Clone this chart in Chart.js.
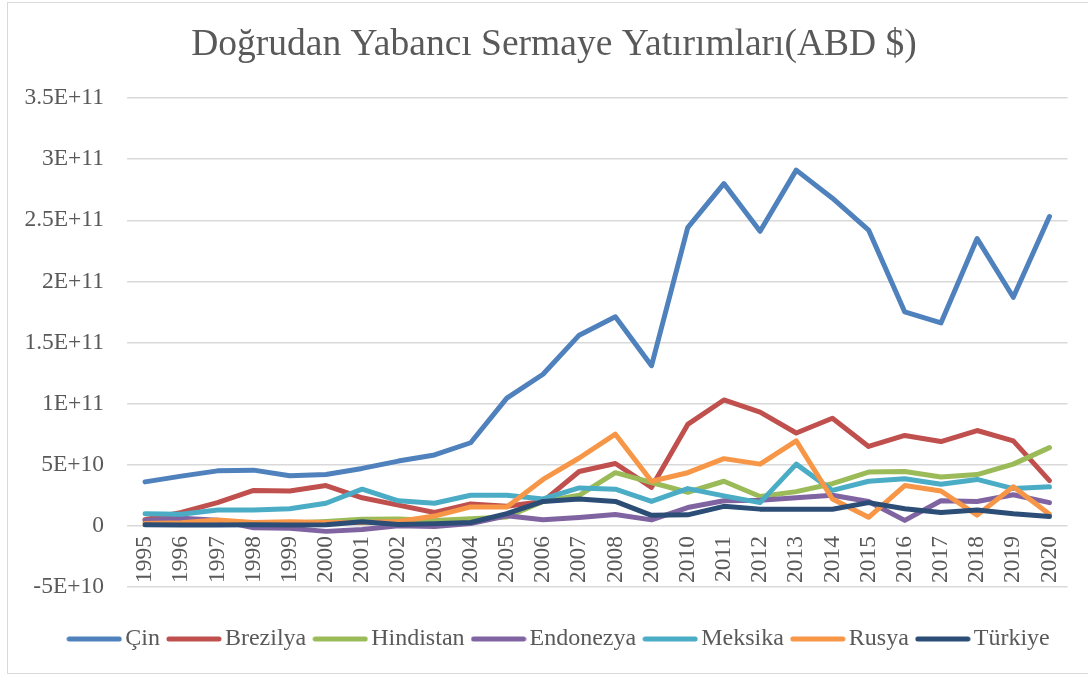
<!DOCTYPE html>
<html>
<head>
    <meta charset="utf-8">
    <title>Doğrudan Yabancı Sermaye Yatırımları</title>
    <script src="https://cdn.jsdelivr.net/npm/chart.js@4.4.1/dist/chart.umd.min.js"></script>
    <style>
        body {
            margin: 0;
            background: #fff;
        }
        .frame {
            position: absolute;
            left: 7px;
            top: 2px;
            width: 1100px;
            height: 670px;
            border: 1.5px solid #d9d9d9;
        }
        canvas {
            position: absolute;
            left: 0;
            top: 0;
        }
    </style>
</head>
<body>
    <div class="frame"></div>
    <canvas id="graph" width="1088" height="675"></canvas>

    <script>
        // Years on the category axis
        const years = ['1995', '1996', '1997', '1998', '1999', '2000', '2001', '2002', '2003', '2004',
            '2005', '2006', '2007', '2008', '2009', '2010', '2011', '2012', '2013', '2014',
            '2015', '2016', '2017', '2018', '2019', '2020'];

        // FDI inflows per country (USD)
        const cin = [3.6e10, 4.07e10, 4.5e10, 4.56e10, 4.1e10, 4.2e10, 4.7e10, 5.3e10, 5.8e10, 6.8e10,
            1.045e11, 1.24e11, 1.56e11, 1.71e11, 1.31e11, 2.44e11, 2.8e11, 2.41e11, 2.91e11, 2.68e11,
            2.42e11, 1.75e11, 1.66e11, 2.35e11, 1.87e11, 2.53e11];
        const brezilya = [5e9, 1.1e10, 1.9e10, 2.9e10, 2.85e10, 3.3e10, 2.3e10, 1.7e10, 1.1e10, 1.8e10,
            1.6e10, 2.0e10, 4.45e10, 5.1e10, 3.15e10, 8.3e10, 1.03e11, 9.3e10, 7.6e10, 8.8e10,
            6.5e10, 7.4e10, 6.9e10, 7.8e10, 6.95e10, 3.7e10];
        const hindistan = [2.1e9, 2.4e9, 3.6e9, 2.6e9, 2.2e9, 3.6e9, 5.5e9, 5.6e9, 4.3e9, 5.8e9,
            7.3e9, 2.0e10, 2.5e10, 4.35e10, 3.55e10, 2.75e10, 3.65e10, 2.4e10, 2.8e10, 3.45e10,
            4.4e10, 4.45e10, 4.0e10, 4.2e10, 5.05e10, 6.4e10];
        const endonezya = [4.3e9, 6.2e9, 4.7e9, -1.5e9, -2e9, -4.5e9, -3e9, 0, -6e8, 1.9e9,
            8.3e9, 5e9, 6.9e9, 9.3e9, 4.9e9, 1.5e10, 2.05e10, 2.1e10, 2.3e10, 2.5e10,
            2.0e10, 4.5e9, 2.05e10, 2.0e10, 2.55e10, 1.9e10];
        const meksika = [1.0e10, 9.5e9, 1.3e10, 1.3e10, 1.4e10, 1.85e10, 3.0e10, 2.05e10, 1.85e10, 2.5e10,
            2.5e10, 2.2e10, 3.1e10, 3.0e10, 2.0e10, 3.05e10, 2.45e10, 1.9e10, 5.05e10, 2.9e10,
            3.65e10, 3.85e10, 3.4e10, 3.8e10, 3.05e10, 3.2e10];
        const rusya = [2e9, 2.5e9, 4.9e9, 2.8e9, 3.3e9, 2.7e9, 2.7e9, 3.5e9, 8e9, 1.55e10,
            1.55e10, 3.8e10, 5.55e10, 7.5e10, 3.65e10, 4.35e10, 5.5e10, 5.05e10, 6.95e10, 2.2e10,
            7e9, 3.3e10, 2.85e10, 8.8e9, 3.2e10, 9.5e9];
        const turkiye = [9e8, 7e8, 8e8, 9e8, 8e8, 1e9, 3.3e9, 1.1e9, 1.7e9, 2.8e9,
            1.0e10, 2.0e10, 2.2e10, 2.0e10, 8.6e9, 9e9, 1.6e10, 1.37e10, 1.37e10, 1.36e10,
            1.9e10, 1.4e10, 1.1e10, 1.3e10, 1.0e10, 7.7e9];

        const seriesNames = ['Çin', 'Brezilya', 'Hindistan', 'Endonezya', 'Meksika', 'Rusya', 'Türkiye'];
        const seriesData = [cin, brezilya, hindistan, endonezya, meksika, rusya, turkiye];
        const seriesColors = ['#4f81bd', '#c0504d', '#9bbb59', '#8064a2', '#4bacc6', '#f79646', '#2c4d75'];

        const textColor = '#595959';
        const fontFamily = '"Liberation Serif", "Times New Roman", serif';

        const datasets = seriesNames.map((name, i) => ({
            label: name,
            data: seriesData[i],
            borderColor: seriesColors[i],
            backgroundColor: seriesColors[i],
            borderWidth: 5,
            borderCapStyle: 'round',
            borderJoinStyle: 'round',
            pointRadius: 0,
            tension: 0,
            fill: false,
            // later series drawn on top, like the original
            order: seriesNames.length - 1 - i
        }));

        // little rounded line used as legend marker
        function legendLine(color) {
            const c = document.createElement('canvas');
            c.width = 56;
            c.height = 6;
            const g = c.getContext('2d');
            g.strokeStyle = color;
            g.lineWidth = 5;
            g.lineCap = 'round';
            g.beginPath();
            g.moveTo(3, 3);
            g.lineTo(53, 3);
            g.stroke();
            return c;
        }
        const legendMarks = seriesColors.map(legendLine);

        // 3.5E+11 style labels
        function sciLabel(v) {
            if (v === 0) return '0';
            return v.toExponential().toUpperCase();
        }

        // title and legend sit a bit right of the canvas centre in the original
        const shiftBlocks = {
            id: 'shiftBlocks',
            afterLayout(chart) {
                chart.titleBlock.left += 37;
                chart.legend.left += 54;
            }
        };

        const ctx = document.getElementById('graph').getContext('2d');
        new Chart(ctx, {
            type: 'line',
            data: {
                labels: years,
                datasets: datasets
            },
            plugins: [shiftBlocks],
            options: {
                responsive: false,
                animation: false,
                layout: {
                    padding: { left: 0, right: 17, top: 0, bottom: 14 }
                },
                plugins: {
                    title: {
                        display: true,
                        text: 'Doğrudan Yabancı Sermaye Yatırımları(ABD $)',
                        color: textColor,
                        font: { family: fontFamily, size: 37.5, weight: 'normal' },
                        padding: { top: 23, bottom: 30 }
                    },
                    legend: {
                        position: 'bottom',
                        // empty title only keeps a gap under the plot
                        title: {
                            display: true,
                            text: '',
                            font: { size: 1, lineHeight: 1 },
                            padding: { top: 0, bottom: 24 }
                        },
                        labels: {
                            color: textColor,
                            font: { family: fontFamily, size: 24 },
                            usePointStyle: true,
                            pointStyleWidth: 38,
                            padding: 15,
                            sort: (a, b) => a.datasetIndex - b.datasetIndex,
                            generateLabels: (chart) => {
                                const items = Chart.defaults.plugins.legend.labels.generateLabels(chart);
                                items.forEach(it => { it.pointStyle = legendMarks[it.datasetIndex]; });
                                return items;
                            }
                        }
                    },
                    tooltip: { enabled: false }
                },
                scales: {
                    x: {
                        position: { y: 0 },
                        offset: true,
                        grid: { display: false, drawTicks: false },
                        border: { display: false },
                        ticks: {
                            color: textColor,
                            font: { family: fontFamily, size: 23.5 },
                            minRotation: 90,
                            maxRotation: 90,
                            autoSkip: false,
                            padding: 10
                        }
                    },
                    y: {
                        min: -5e10,
                        max: 3.5e11,
                        grid: { color: '#d9d9d9', lineWidth: 1.5, drawTicks: false },
                        border: { display: false },
                        ticks: {
                            stepSize: 5e10,
                            color: textColor,
                            font: { family: fontFamily, size: 23.5 },
                            padding: 23,
                            callback: sciLabel
                        },
                        afterFit: (scale) => { scale.width = 127; }
                    }
                }
            }
        });
    </script>
</body>
</html>
